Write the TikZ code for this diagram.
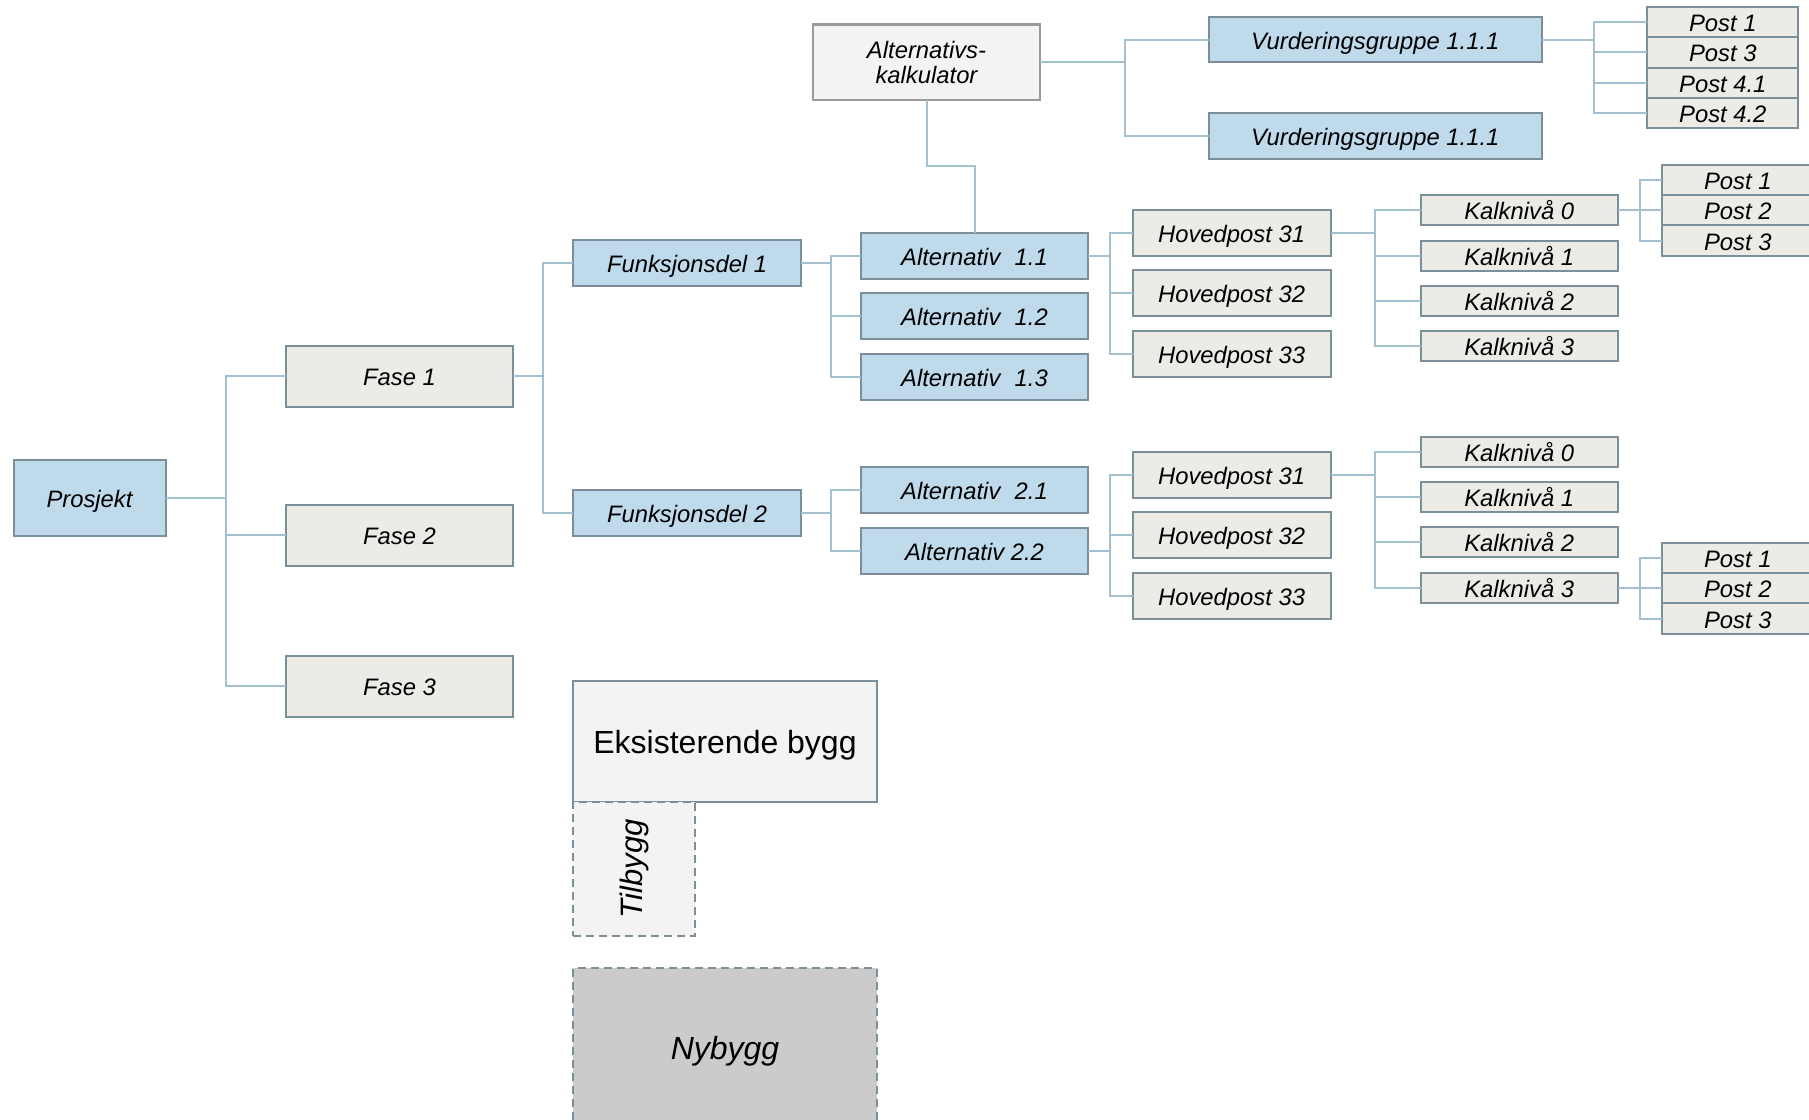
\documentclass[tikz,border=0pt]{standalone}
\usepackage{fontspec}
\setmainfont{Liberation Sans}
\definecolor{bluef}{HTML}{BFDAEB}
\definecolor{grayf}{HTML}{ECEBE6}
\definecolor{lightf}{HTML}{F3F3F3}
\definecolor{darkf}{HTML}{CBCBCB}
\definecolor{bordc}{HTML}{7B8F9B}
\definecolor{connc}{HTML}{A4BFCE}
\definecolor{calcb}{HTML}{9A9A9A}
\begin{document}
\begin{tikzpicture}[x=1pt,y=-1pt,
  base/.style={draw=bordc, line width=2pt, inner sep=0pt, outer sep=0pt,
    font=\fontsize{23.8}{25.4}\selectfont\itshape, align=center},
  capcenter/.style={text height=19pt, text depth=0pt},
  bluebox/.style={base, capcenter, fill=bluef},
  graybox/.style={base, capcenter, fill=grayf},
  fasebox/.style={graybox, minimum width=227.5pt, minimum height=60.7pt},
  funkbox/.style={bluebox, minimum width=227.8pt, minimum height=46pt},
  altbox/.style={bluebox, minimum width=227.5pt, minimum height=46pt},
  vgbox/.style={bluebox, minimum width=333.4pt, minimum height=45.6pt},
  hpbox/.style={graybox, minimum width=198pt, minimum height=46pt},
  kalkbox/.style={graybox, minimum width=197pt, minimum height=30pt},
  postbox/.style={graybox, minimum width=151pt, minimum height=30.4pt},
  conn/.style={draw=connc, line width=2pt},
  dashedbox/.style={draw=bordc, line width=2pt, dash pattern=on 8pt off 5pt, inner sep=0pt, outer sep=0pt}
]
\useasboundingbox (0,0) rectangle (1809,1119);
\fill[white] (0,0) rectangle (1809,1119);
\clip (0,0) rectangle (1809,1119);

% ---------- boxes ----------
\node[bluebox, minimum width=152pt, minimum height=76pt] (prosjekt) at (89.5,497.5) {Prosjekt};

\node[fasebox] (fase1) at (399.5,376.3) {Fase 1};
\node[fasebox] (fase2) at (399.5,535.2) {Fase 2};
\node[fasebox] (fase3) at (399.5,686.3) {Fase 3};

\node[funkbox] (funk1) at (687.1,263.3) {Funksjonsdel 1};
\node[funkbox] (funk2) at (687.1,512.8) {Funksjonsdel 2};

\node[altbox] (alt11) at (974.5,255.7) {Alternativ\hspace{0.6em}1.1};
\node[altbox] (alt12) at (974.5,316.0) {Alternativ\hspace{0.6em}1.2};
\node[altbox] (alt13) at (974.5,376.7) {Alternativ\hspace{0.6em}1.3};
\node[altbox] (alt21) at (974.5,490.2) {Alternativ\hspace{0.6em}2.1};
\node[altbox] (alt22) at (974.5,550.5) {Alternativ 2.2};

\node[base, draw=calcb, line width=2.4pt, fill=lightf, minimum width=227pt, minimum height=75.7pt] (calc) at (926.5,62.2) {Alternativs-\\kalkulator};

\node[vgbox] (vg1) at (1375.3,39.5) {Vurderingsgruppe 1.1.1};
\node[vgbox] (vg2) at (1375.3,136.2) {Vurderingsgruppe 1.1.1};

\node[postbox] (vp1) at (1722.8,21.9) {Post 1};
\node[postbox] (vp3) at (1722.8,52.3) {Post 3};
\node[postbox] (vp41) at (1722.8,82.7) {Post 4.1};
\node[postbox] (vp42) at (1722.8,113.1) {Post 4.2};

\node[hpbox] (ha31) at (1231.6,233.2) {Hovedpost 31};
\node[hpbox] (ha32) at (1231.6,293.3) {Hovedpost 32};
\node[hpbox] (ha33) at (1231.6,354.0) {Hovedpost 33};
\node[hpbox] (hb31) at (1231.6,475.0) {Hovedpost 31};
\node[hpbox] (hb32) at (1231.6,535.3) {Hovedpost 32};
\node[hpbox] (hb33) at (1231.6,596.0) {Hovedpost 33};

\node[kalkbox] (ka0) at (1519.2,210.3) {Kalknivå 0};
\node[kalkbox] (ka1) at (1519.2,255.7) {Kalknivå 1};
\node[kalkbox] (ka2) at (1519.2,301.0) {Kalknivå 2};
\node[kalkbox] (ka3) at (1519.2,346.3) {Kalknivå 3};
\node[kalkbox] (kb0) at (1519.2,452.3) {Kalknivå 0};
\node[kalkbox] (kb1) at (1519.2,497.3) {Kalknivå 1};
\node[kalkbox] (kb2) at (1519.2,542.3) {Kalknivå 2};
\node[kalkbox] (kb3) at (1519.2,588.0) {Kalknivå 3};

\node[postbox] (pa1) at (1737.8,180.0) {Post 1};
\node[postbox] (pa2) at (1737.8,210.3) {Post 2};
\node[postbox] (pa3) at (1737.8,240.6) {Post 3};
\node[postbox] (pb1) at (1737.8,558.0) {Post 1};
\node[postbox] (pb2) at (1737.8,588.3) {Post 2};
\node[postbox] (pb3) at (1737.8,618.6) {Post 3};

% ---------- trunk positions ----------
\coordinate (tP) at (225.7,0);
\coordinate (tF) at (542.9,0);
\coordinate (tA) at (831,0);
\coordinate (tC) at (1125,0);
\coordinate (tV) at (1594,0);
\coordinate (tH) at (1110,0);
\coordinate (tK) at (1375,0);
\coordinate (tQ) at (1640,0);
\coordinate (elbow) at (0,166);

% ---------- connectors ----------
\begin{scope}[on background layer/.try]
\foreach \c in {fase1,fase2,fase3}
  \draw[conn] (prosjekt.east) -- (prosjekt.east -| tP) |- (\c.west);
\foreach \c in {funk1,funk2}
  \draw[conn] (fase1.east) -- (fase1.east -| tF) |- (\c.west);
\foreach \c in {alt11,alt12,alt13}
  \draw[conn] (funk1.east) -- (funk1.east -| tA) |- (\c.west);
\foreach \c in {alt21,alt22}
  \draw[conn] (funk2.east) -- (funk2.east -| tA) |- (\c.west);
\draw[conn] (alt11.north) -- (alt11.north |- elbow) -| (calc.south);
\foreach \c in {vg1,vg2}
  \draw[conn] (calc.east) -- (calc.east -| tC) |- (\c.west);
\foreach \c in {vp1,vp3,vp41,vp42}
  \draw[conn] (vg1.east) -- (vg1.east -| tV) |- (\c.west);
\foreach \c in {ha31,ha32,ha33}
  \draw[conn] (alt11.east) -- (alt11.east -| tH) |- (\c.west);
\foreach \c in {hb31,hb32,hb33}
  \draw[conn] (alt22.east) -- (alt22.east -| tH) |- (\c.west);
\foreach \c in {ka0,ka1,ka2,ka3}
  \draw[conn] (ha31.east) -- (ha31.east -| tK) |- (\c.west);
\foreach \c in {kb0,kb1,kb2,kb3}
  \draw[conn] (hb31.east) -- (hb31.east -| tK) |- (\c.west);
\foreach \c in {pa1,pa2,pa3}
  \draw[conn] (ka0.east) -- (ka0.east -| tQ) |- (\c.west);
\foreach \c in {pb1,pb2,pb3}
  \draw[conn] (kb3.east) -- (kb3.east -| tQ) |- (\c.west);
\end{scope}

% ---------- building sketch ----------
\node[draw=bordc, line width=2pt, fill=lightf, inner sep=0pt, outer sep=0pt,
  minimum width=303.4pt, minimum height=121pt, text height=25pt, text depth=0pt,
  font=\fontsize{32}{36}\selectfont] (eksist) at (725,741) {Eksisterende bygg};
\node[dashedbox, fill=lightf, minimum width=121.7pt, minimum height=134.3pt] (tilbygg) at (634.2,868.9) {};
\node[rotate=90, font=\fontsize{31}{34}\selectfont\itshape] (tiltext) at (tilbygg.center) {Tilbygg};
\node[dashedbox, fill=darkf, minimum width=303.4pt, minimum height=160pt, text height=21.4pt, text depth=0pt,
  font=\fontsize{32}{36}\selectfont\itshape] (nybygg) at (725,1048.3) {Nybygg};
\end{tikzpicture}
\end{document}
